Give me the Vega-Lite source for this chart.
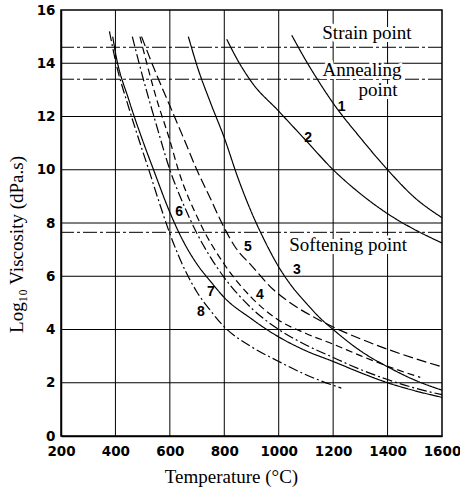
{
  "$schema": "https://vega.github.io/schema/vega-lite/v6.json",
  "autosize": "none",
  "width": 381,
  "height": 426,
  "padding": {"left": 61, "top": 10, "right": 18, "bottom": 56},
  "background": "white",
  "config": {
    "view": {"stroke": "black", "strokeWidth": 1.5},
    "axis": {
      "domainColor": "#000", "domainWidth": 1.5, "grid": false, "ticks": false,
      "labelFont": "DejaVu Sans", "labelFontSize": 13.5, "labelFontWeight": "bold", "labelColor": "#000",
      "titleFont": "Liberation Serif", "titleFontSize": 19, "titleFontWeight": "normal", "titleColor": "#000"
    }
  },
  "datasets": {
    "curves": [
      {"c": "1", "T": 1048, "v": 15.05}, {"c": "1", "T": 1100, "v": 14.1}, {"c": "1", "T": 1140, "v": 13.43}, {"c": "1", "T": 1200, "v": 12.5}, {"c": "1", "T": 1300, "v": 11.2}, {"c": "1", "T": 1400, "v": 10.0}, {"c": "1", "T": 1500, "v": 8.95}, {"c": "1", "T": 1600, "v": 8.2},
      {"c": "2", "T": 809, "v": 14.9}, {"c": "2", "T": 850, "v": 14.1}, {"c": "2", "T": 900, "v": 13.3}, {"c": "2", "T": 1000, "v": 12.2}, {"c": "2", "T": 1100, "v": 11.1}, {"c": "2", "T": 1200, "v": 10.0}, {"c": "2", "T": 1300, "v": 9.1}, {"c": "2", "T": 1400, "v": 8.35}, {"c": "2", "T": 1500, "v": 7.75}, {"c": "2", "T": 1600, "v": 7.25},
      {"c": "3", "T": 668, "v": 15.0}, {"c": "3", "T": 700, "v": 13.9}, {"c": "3", "T": 750, "v": 12.5}, {"c": "3", "T": 800, "v": 11.2}, {"c": "3", "T": 850, "v": 9.7}, {"c": "3", "T": 900, "v": 8.4}, {"c": "3", "T": 950, "v": 7.3}, {"c": "3", "T": 1000, "v": 6.35}, {"c": "3", "T": 1050, "v": 5.6}, {"c": "3", "T": 1100, "v": 5.0}, {"c": "3", "T": 1150, "v": 4.45}, {"c": "3", "T": 1200, "v": 4.0}, {"c": "3", "T": 1300, "v": 3.2}, {"c": "3", "T": 1400, "v": 2.6}, {"c": "3", "T": 1500, "v": 2.1}, {"c": "3", "T": 1600, "v": 1.72},
      {"c": "4", "T": 490, "v": 15.0}, {"c": "4", "T": 550, "v": 12.7}, {"c": "4", "T": 600, "v": 11.1}, {"c": "4", "T": 631, "v": 10.0}, {"c": "4", "T": 711, "v": 8.0}, {"c": "4", "T": 800, "v": 6.45}, {"c": "4", "T": 900, "v": 5.2}, {"c": "4", "T": 1000, "v": 4.35}, {"c": "4", "T": 1100, "v": 3.85}, {"c": "4", "T": 1200, "v": 3.45}, {"c": "4", "T": 1300, "v": 3.02}, {"c": "4", "T": 1400, "v": 2.62}, {"c": "4", "T": 1520, "v": 2.2},
      {"c": "5", "T": 496, "v": 15.0}, {"c": "5", "T": 550, "v": 13.6}, {"c": "5", "T": 600, "v": 12.4}, {"c": "5", "T": 650, "v": 11.2}, {"c": "5", "T": 699, "v": 10.0}, {"c": "5", "T": 750, "v": 8.9}, {"c": "5", "T": 791, "v": 8.0}, {"c": "5", "T": 840, "v": 7.1}, {"c": "5", "T": 900, "v": 6.4}, {"c": "5", "T": 980, "v": 5.5}, {"c": "5", "T": 1050, "v": 4.95}, {"c": "5", "T": 1150, "v": 4.35}, {"c": "5", "T": 1300, "v": 3.65}, {"c": "5", "T": 1450, "v": 3.08}, {"c": "5", "T": 1600, "v": 2.6},
      {"c": "6", "T": 462, "v": 15.0}, {"c": "6", "T": 500, "v": 13.5}, {"c": "6", "T": 550, "v": 11.7}, {"c": "6", "T": 600, "v": 10.0}, {"c": "6", "T": 650, "v": 8.7}, {"c": "6", "T": 700, "v": 7.6}, {"c": "6", "T": 750, "v": 6.7}, {"c": "6", "T": 800, "v": 5.95}, {"c": "6", "T": 900, "v": 4.8}, {"c": "6", "T": 1000, "v": 4.0}, {"c": "6", "T": 1100, "v": 3.42}, {"c": "6", "T": 1200, "v": 2.95}, {"c": "6", "T": 1300, "v": 2.5}, {"c": "6", "T": 1400, "v": 2.12}, {"c": "6", "T": 1500, "v": 1.8}, {"c": "6", "T": 1600, "v": 1.55},
      {"c": "7", "T": 390, "v": 15.0}, {"c": "7", "T": 400, "v": 14.4}, {"c": "7", "T": 450, "v": 12.6}, {"c": "7", "T": 500, "v": 11.1}, {"c": "7", "T": 540, "v": 10.0}, {"c": "7", "T": 600, "v": 8.4}, {"c": "7", "T": 650, "v": 7.3}, {"c": "7", "T": 700, "v": 6.45}, {"c": "7", "T": 750, "v": 5.8}, {"c": "7", "T": 800, "v": 5.2}, {"c": "7", "T": 900, "v": 4.4}, {"c": "7", "T": 968, "v": 3.92}, {"c": "7", "T": 1100, "v": 3.2}, {"c": "7", "T": 1200, "v": 2.8}, {"c": "7", "T": 1300, "v": 2.38}, {"c": "7", "T": 1400, "v": 2.0}, {"c": "7", "T": 1500, "v": 1.7}, {"c": "7", "T": 1600, "v": 1.45},
      {"c": "8", "T": 378, "v": 15.2}, {"c": "8", "T": 400, "v": 14.1}, {"c": "8", "T": 450, "v": 12.3}, {"c": "8", "T": 500, "v": 10.7}, {"c": "8", "T": 521, "v": 10.05}, {"c": "8", "T": 560, "v": 8.8}, {"c": "8", "T": 600, "v": 7.6}, {"c": "8", "T": 662, "v": 6.1}, {"c": "8", "T": 700, "v": 5.4}, {"c": "8", "T": 750, "v": 4.7}, {"c": "8", "T": 800, "v": 4.1}, {"c": "8", "T": 900, "v": 3.35}, {"c": "8", "T": 1000, "v": 2.8}, {"c": "8", "T": 1100, "v": 2.3}, {"c": "8", "T": 1230, "v": 1.8}
    ],
    "refs": [{"name": "strain", "v": 14.6}, {"name": "annealing", "v": 13.4}, {"name": "softening", "v": 7.65}],
    "gridX": [{"T": 400}, {"T": 600}, {"T": 800}, {"T": 1000}, {"T": 1200}, {"T": 1400}],
    "gridY": [{"v": 2}, {"v": 4}, {"v": 6}, {"v": 8}, {"v": 10}, {"v": 12}, {"v": 14}],
    "curveLabels": [
      {"t": "1", "T": 1231, "v": 12.37}, {"t": "2", "T": 1108, "v": 11.19}, {"t": "3", "T": 1067, "v": 6.23}, {"t": "4", "T": 931, "v": 5.3},
      {"t": "5", "T": 887, "v": 7.1}, {"t": "6", "T": 634, "v": 8.41}, {"t": "7", "T": 751, "v": 5.41}, {"t": "8", "T": 714, "v": 4.66}
    ],
    "pointLabels": [
      {"t": "Strain point", "T": 1324, "v": 15.14}, {"t": "Annealing", "T": 1306, "v": 13.75}, {"t": "point", "T": 1365, "v": 13.0}, {"t": "Softening point", "T": 1255, "v": 7.17}
    ]
  },
  "layer": [
    {
      "data": {"name": "gridX"},
      "mark": {"type": "rule", "color": "#000", "strokeWidth": 1},
      "encoding": {"x": {"field": "T", "type": "quantitative", "scale": {"domain": [200, 1600], "nice": false}}}
    },
    {
      "data": {"name": "gridY"},
      "mark": {"type": "rule", "color": "#000", "strokeWidth": 1},
      "encoding": {"y": {"field": "v", "type": "quantitative", "scale": {"domain": [0, 16], "nice": false}}}
    },
    {
      "data": {"name": "refs"},
      "mark": {"type": "rule", "color": "#000", "strokeWidth": 1, "strokeDash": [14, 3, 3, 3]},
      "encoding": {"y": {"field": "v", "type": "quantitative"}}
    },
    {
      "data": {"name": "pointLabels"},
      "mark": {"type": "text", "font": "Liberation Serif", "fontSize": 19, "color": "white", "stroke": "white", "strokeWidth": 6},
      "encoding": {
        "x": {"field": "T", "type": "quantitative"},
        "y": {"field": "v", "type": "quantitative"},
        "text": {"field": "t"}
      }
    },
    {
      "data": {"name": "curves"},
      "mark": {"type": "line", "color": "#000", "strokeWidth": 1.2, "interpolate": "monotone", "clip": true},
      "encoding": {
        "x": {"field": "T", "type": "quantitative",
          "axis": {"values": [200, 400, 600, 800, 1000, 1200, 1400, 1600], "format": "d", "labelFlush": false, "labelPadding": 8, "title": "Temperature (°C)", "titlePadding": 10, "titleX": 170}},
        "y": {"field": "v", "type": "quantitative",
          "axis": {"values": [0, 2, 4, 6, 8, 10, 12, 14, 16], "labelFlush": false, "labelPadding": 6, "title": "Log₁₀ Viscosity (dPa.s)", "titlePadding": 10, "titleY": 234}},
        "strokeDash": {"field": "c", "type": "nominal", "legend": null,
          "scale": {"domain": ["1", "2", "3", "4", "5", "6", "7", "8"],
                    "range": [[1, 0], [1, 0], [1, 0], [7, 4], [10, 4], [10, 3, 2, 3], [1, 0], [10, 3, 2, 3]]}}
      }
    },
    {
      "data": {"name": "curveLabels"},
      "mark": {"type": "text", "font": "Liberation Sans", "fontSize": 14, "fontWeight": "bold", "color": "#000"},
      "encoding": {
        "x": {"field": "T", "type": "quantitative"},
        "y": {"field": "v", "type": "quantitative"},
        "text": {"field": "t"}
      }
    },
    {
      "data": {"name": "pointLabels"},
      "mark": {"type": "text", "font": "Liberation Serif", "fontSize": 19, "color": "#000"},
      "encoding": {
        "x": {"field": "T", "type": "quantitative"},
        "y": {"field": "v", "type": "quantitative"},
        "text": {"field": "t"}
      }
    }
  ]
}
